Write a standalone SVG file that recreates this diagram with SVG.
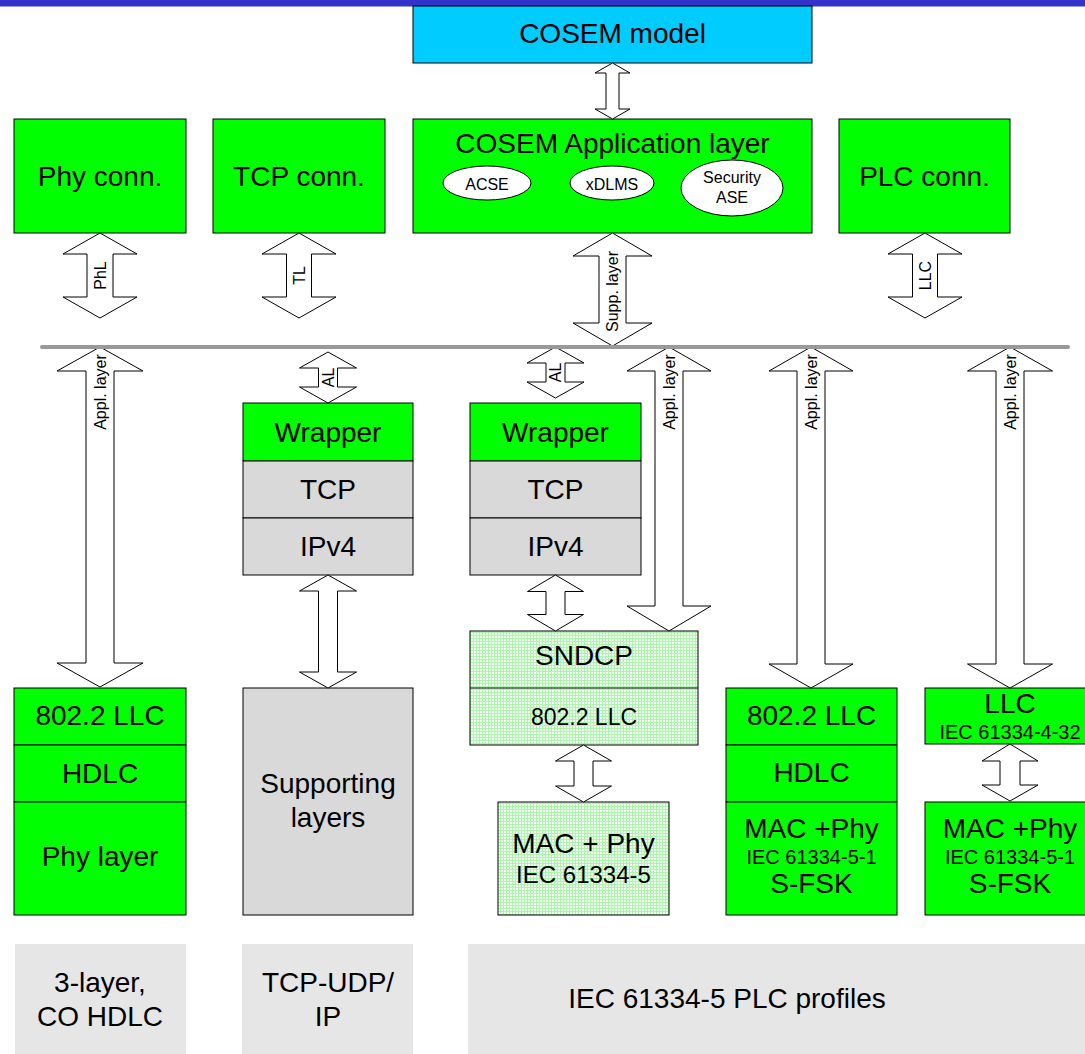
<svg xmlns="http://www.w3.org/2000/svg" width="1085" height="1054" viewBox="0 0 1085 1054">
<style>
text{font-family:"Liberation Sans",Arial,sans-serif;fill:#000;text-anchor:middle}
.t28{font-size:28px}
.t24{font-size:24px}
.t23{font-size:23px}
.t20{font-size:20px}
.t16{font-size:16px}
.g{fill:#00FF00;stroke:#000;stroke-width:1}
.gr{fill:#D9D9D9;stroke:#000;stroke-width:1}
.pt{fill:url(#dots);stroke:#000;stroke-width:1}
.lab{fill:#E6E6E6;stroke:none}
.arr{fill:#fff;stroke:#000;stroke-width:1;stroke-linejoin:miter}
.div{stroke:#000;stroke-width:1}
</style>
<defs>
<pattern id="dots" width="3" height="3" patternUnits="userSpaceOnUse">
<rect width="3" height="3" fill="#B0F2B0"/>
<rect width="2" height="2" fill="#EEFFEE"/>
</pattern>
</defs>
<rect width="1085" height="1054" fill="#fff"/>
<rect x="0" y="0" width="1085" height="6" fill="#3333CC"/>
<rect x="0" y="6" width="1085" height="1" fill="#9999DD"/>

<g id="cosem-model">
<rect x="413" y="6" width="399" height="57" fill="#00CCFF" stroke="#000" stroke-width="1"/>
<text class="t28" x="612.5" y="43">COSEM model</text>
</g>

<g id="cosem-app">
<rect class="g" x="413" y="119" width="399" height="114"/>
<text class="t28" x="612.5" y="153">COSEM Application layer</text>
<ellipse cx="487" cy="183" rx="44" ry="17" fill="#fff" stroke="#000"/>
<text class="t16" x="487" y="190">ACSE</text>
<ellipse cx="612" cy="183" rx="42" ry="17" fill="#fff" stroke="#000"/>
<text class="t16" x="612" y="190">xDLMS</text>
<ellipse cx="732" cy="188" rx="51" ry="28" fill="#fff" stroke="#000"/>
<text class="t16" x="732" y="183">Security</text>
<text class="t16" x="732" y="203">ASE</text>
</g>

<g id="phy-conn">
<rect class="g" x="14" y="119" width="172" height="114"/>
<text class="t28" x="100" y="186">Phy conn.</text>
</g>
<g id="tcp-conn">
<rect class="g" x="213" y="119" width="172" height="114"/>
<text class="t28" x="299" y="186">TCP conn.</text>
</g>
<g id="plc-conn">
<rect class="g" x="839" y="119" width="171" height="114"/>
<text class="t28" x="924.5" y="186">PLC conn.</text>
</g>

<g id="tcp-stack-1">
<rect class="g" x="243" y="403" width="170" height="58"/>
<text class="t28" x="328" y="442">Wrapper</text>
<rect class="gr" x="243" y="461" width="170" height="57"/>
<text class="t28" x="328" y="499">TCP</text>
<rect class="gr" x="243" y="518" width="170" height="57"/>
<text class="t28" x="328" y="556">IPv4</text>
</g>
<g id="tcp-stack-2">
<rect class="g" x="470" y="403" width="171" height="58"/>
<text class="t28" x="555.5" y="442">Wrapper</text>
<rect class="gr" x="470" y="461" width="171" height="57"/>
<text class="t28" x="555.5" y="499">TCP</text>
<rect class="gr" x="470" y="518" width="171" height="57"/>
<text class="t28" x="555.5" y="556">IPv4</text>
</g>

<g id="hdlc-stack">
<rect class="g" x="14" y="688" width="172" height="57"/>
<text class="t28" x="100" y="725">802.2 LLC</text>
<rect class="g" x="14" y="745" width="172" height="57"/>
<text class="t28" x="100" y="783">HDLC</text>
<rect class="g" x="14" y="802" width="172" height="113"/>
<text class="t28" x="100" y="866">Phy layer</text>
</g>

<g id="supporting">
<rect class="gr" x="243" y="688" width="170" height="227"/>
<text class="t28" x="328" y="793">Supporting</text>
<text class="t28" x="328" y="827">layers</text>
</g>

<g id="sndcp">
<rect class="pt" x="470" y="631" width="228" height="114"/>
<line class="div" x1="470" y1="688" x2="698" y2="688"/>
<text class="t28" x="584" y="665">SNDCP</text>
<text class="t23" x="584" y="725">802.2 LLC</text>
</g>
<g id="mac-phy-5">
<rect class="pt" x="498" y="802" width="171" height="113"/>
<text class="t28" x="583.5" y="853">MAC + Phy</text>
<text class="t24" x="583.5" y="883">IEC 61334-5</text>
</g>

<g id="sfsk-hdlc">
<rect class="g" x="726" y="688" width="171" height="57"/>
<text class="t28" x="811.5" y="725">802.2 LLC</text>
<rect class="g" x="726" y="745" width="171" height="57"/>
<text class="t28" x="811.5" y="782">HDLC</text>
<rect class="g" x="726" y="802" width="171" height="113"/>
<text class="t28" x="811.5" y="838">MAC +Phy</text>
<text class="t20" x="811.5" y="864">IEC 61334-5-1</text>
<text class="t28" x="811.5" y="893">S-FSK</text>
</g>

<g id="sfsk-llc">
<rect class="g" x="925" y="688" width="171" height="56"/>
<text class="t28" x="1010" y="713">LLC</text>
<text class="t20" x="1010" y="739">IEC 61334-4-32</text>
</g>
<g id="sfsk-mac">
<rect class="g" x="925" y="802" width="171" height="113"/>
<text class="t28" x="1010" y="838">MAC +Phy</text>
<text class="t20" x="1010" y="864">IEC 61334-5-1</text>
<text class="t28" x="1010" y="893">S-FSK</text>
</g>

<g id="label-hdlc">
<rect class="lab" x="15" y="944" width="171" height="110"/>
<text class="t28" x="100" y="992">3-layer,</text>
<text class="t28" x="100" y="1026">CO HDLC</text>
</g>
<g id="label-tcp">
<rect class="lab" x="242" y="944" width="171" height="110"/>
<text class="t28" x="328" y="992">TCP-UDP/</text>
<text class="t28" x="328" y="1026">IP</text>
</g>
<g id="label-plc">
<rect class="lab" x="468" y="944" width="617" height="110"/>
<text class="t28" x="727" y="1008">IEC 61334-5 PLC profiles</text>
</g>

<g id="connectors">
<polygon class="arr" points="612.5,63 630,73 619,73 619,109 630,109 612.5,119 595,109 606,109 606,73 595,73"/>
<polygon class="arr" points="100,233 137,254 113,254 113,297 137,297 100,318 63,297 87,297 87,254 63,254"/>
<text class="t16" transform="translate(106,275.5) rotate(-90)">PhL</text>
<polygon class="arr" points="299,233 336,254 311.5,254 311.5,297 336,297 299,318 262,297 286.5,297 286.5,254 262,254"/>
<text class="t16" transform="translate(305,275.5) rotate(-90)">TL</text>
<polygon class="arr" points="612.5,233 652,256 626,256 626,323 652,323 612.5,346 573,323 599,323 599,256 573,256"/>
<text class="t16" transform="translate(618,291.5) rotate(-90)">Supp. layer</text>
<polygon class="arr" points="925,233 962,254 937.5,254 937.5,297 962,297 925,318 888,297 912.5,297 912.5,254 888,254"/>
<text class="t16" transform="translate(931,275.5) rotate(-90)">LLC</text>

<polygon class="arr" points="100,347 143,371 114,371 114,663 143,663 100,687 57,663 86,663 86,371 57,371"/>
<text class="t16" transform="translate(105.5,392) rotate(-90)">Appl. layer</text>
<polygon class="arr" points="328,352 356.5,368 337.5,368 337.5,387 356.5,387 328,403 299.5,387 318.5,387 318.5,368 299.5,368"/>
<text class="t16" transform="translate(334,377.5) rotate(-90)">AL</text>
<polygon class="arr" points="555.5,347 584,363 565,363 565,382 584,382 555.5,398 527,382 546,382 546,363 527,363"/>
<text class="t16" transform="translate(561,372.5) rotate(-90)">AL</text>
<polygon class="arr" points="669,347 711,371 683,371 683,606 711,606 669,631 627,606 655,606 655,371 627,371"/>
<text class="t16" transform="translate(674.5,392) rotate(-90)">Appl. layer</text>
<polygon class="arr" points="811,347 853,371 825,371 825,664 853,664 811,688 769,664 797,664 797,371 769,371"/>
<text class="t16" transform="translate(816.5,392) rotate(-90)">Appl. layer</text>
<polygon class="arr" points="1010,347 1052.5,371 1024,371 1024,664 1052.5,664 1010,688 967.5,664 996,664 996,371 967.5,371"/>
<text class="t16" transform="translate(1015.5,392) rotate(-90)">Appl. layer</text>

<polygon class="arr" points="328,575 356.5,591 337.5,591 337.5,672 356.5,672 328,688 299.5,672 318.5,672 318.5,591 299.5,591"/>
<polygon class="arr" points="555.5,575 583.5,591.5 565,591.5 565,614.5 583.5,614.5 555.5,631 527.5,614.5 546,614.5 546,591.5 527.5,591.5"/>
<polygon class="arr" points="583.5,745 611.5,761 593,761 593,786 611.5,786 583.5,802 555.5,786 574,786 574,761 555.5,761"/>
<polygon class="arr" points="1010,744 1038,761 1020,761 1020,785 1038,785 1010,801 982,785 1000,785 1000,761 982,761"/>

<line x1="42" y1="347" x2="1068" y2="347" stroke="#999" stroke-width="4" stroke-linecap="round"/>
</g>
</svg>
